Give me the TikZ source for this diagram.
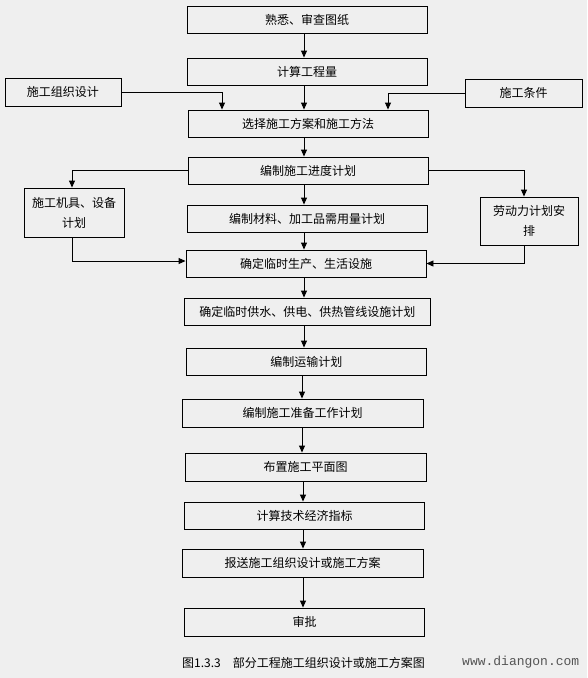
\documentclass[tikz,border=0pt]{standalone}
\usepackage{fontspec}
\newfontfamily\cjk{Noto Sans CJK SC}
\newfontfamily\webmono{Liberation Mono}
\usetikzlibrary{arrows.meta}
\definecolor{bgc}{HTML}{EFEFEF}
\definecolor{webc}{HTML}{555555}
\tikzset{
  box/.style={draw=black, line width=0.9pt, inner sep=0pt, minimum height=27pt,
    minimum width=240pt, font=\cjk\fontsize{12pt}{14pt}\selectfont, align=center, fill=bgc},
  arr/.style={draw=black, line width=0.9pt, -{Triangle[length=7pt,width=6pt]}},
}
\begin{document}
\begin{tikzpicture}[x=1pt,y=-1pt]
\fill[bgc] (0,0) rectangle (587,678);
\useasboundingbox (0,0) rectangle (587,678);

\node[box] (b1) at (307,19.5) {熟悉、审查图纸};
\node[box] (b2) at (307,71.5) {计算工程量};
\node[box, minimum width=116pt, minimum height=28pt] (l1) at (63,92) {施工组织设计};
\node[box, minimum width=117pt, minimum height=28pt] (r1) at (523.5,93) {施工条件};
\node[box] (b3) at (308,123.5) {选择施工方案和施工方法};
\node[box] (b4) at (308,170.5) {编制施工进度计划};
\node[box, minimum width=100pt, minimum height=49pt, font=\cjk\fontsize{12pt}{20pt}\selectfont] (l2) at (74,212.5) {施工机具、设备\\计划};
\node[box, minimum width=98pt, minimum height=48pt, font=\cjk\fontsize{12pt}{20pt}\selectfont] (r2) at (529,221) {劳动力计划安\\排};
\node[box] (b5) at (307,218.5) {编制材料、加工品需用量计划};
\node[box] (b6) at (306,263.5) {确定临时生产、生活设施};
\node[box, minimum width=245.5pt] (b7) at (307.25,311.5) {确定临时供水、供电、供热管线设施计划};
\node[box, minimum width=239.5pt] (b8) at (306.25,361.5) {编制运输计划};
\node[box, minimum width=241pt, minimum height=28pt] (b9) at (302.5,413) {编制施工准备工作计划};
\node[box, minimum width=241pt, minimum height=28pt] (b10) at (305.5,467) {布置施工平面图};
\node[box] (b11) at (304.5,515.5) {计算技术经济指标};
\node[box, minimum width=241pt, minimum height=28pt] (b12) at (302.5,563) {报送施工组织设计或施工方案};
\node[box, minimum height=28pt] (b13) at (304.5,622) {审批};

\node[anchor=west, inner sep=0pt, font=\cjk\fontsize{12pt}{14pt}\selectfont] (cap) at (182,663) {图1.3.3\hspace{12pt}部分工程施工组织设计或施工方案图};
\node[anchor=west, inner sep=0pt, text=webc, font=\webmono\fontsize{13pt}{15pt}\selectfont] (web) at (462,662) {www.diangon.com};

\coordinate (ca) at (304,0);
\coordinate (cb) at (302,0);
\coordinate (cc) at (303,0);
\coordinate (xl1) at (222,0);
\coordinate (xr1) at (388,0);
\coordinate (xl2) at (72,0);
\coordinate (xr2) at (524,0);

\draw[arr] (b1.south -| ca) -- (b2.north -| ca);
\draw[arr] (b2.south -| ca) -- (b3.north -| ca);
\draw[arr] (b3.south -| ca) -- (b4.north -| ca);
\draw[arr] (b4.south -| ca) -- (b5.north -| ca);
\draw[arr] (b5.south -| ca) -- (b6.north -| ca);
\draw[arr] (b6.south -| ca) -- (b7.north -| ca);
\draw[arr] (b7.south -| ca) -- (b8.north -| ca);
\draw[arr] (b8.south -| cb) -- (b9.north -| cb);
\draw[arr] (b9.south -| cb) -- (b10.north -| cb);
\draw[arr] (b10.south -| cc) -- (b11.north -| cc);
\draw[arr] (b11.south -| cc) -- (b12.north -| cc);
\draw[arr] (b12.south -| cc) -- (b13.north -| cc);

\draw[arr] (l1.east) -| (b3.north -| xl1);
\draw[arr] (r1.west) -| (b3.north -| xr1);
\draw[arr] (b4.west) -| (l2.north -| xl2);
\draw[arr] (b4.east) -| (r2.north -| xr2);
\draw[arr] (l2.south -| xl2) |- ([yshift=2.5pt]b6.west);
\draw[arr] (r2.south -| xr2) |- (b6.east);
\end{tikzpicture}
\end{document}
